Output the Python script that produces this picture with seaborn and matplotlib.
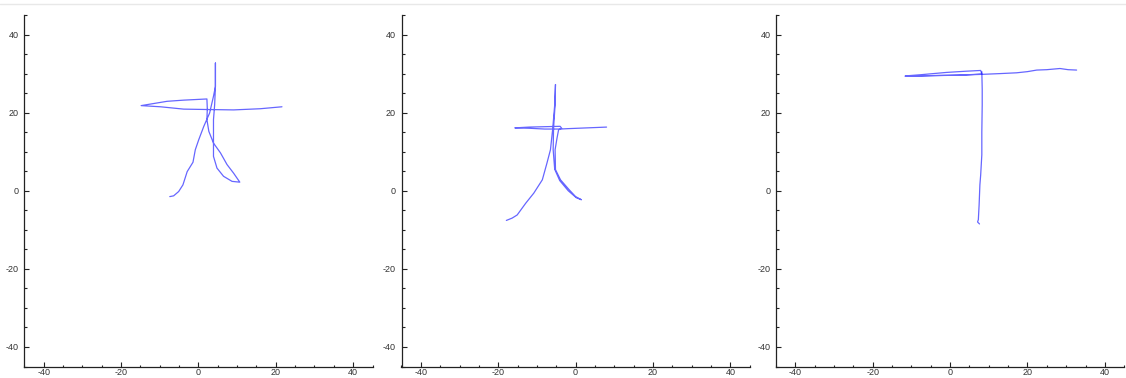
import numpy as np
import pandas as pd
import matplotlib
matplotlib.use("Agg")
import matplotlib.pyplot as plt
from matplotlib.ticker import MultipleLocator
from matplotlib.lines import Line2D
import seaborn as sns

# Pen trajectories of three handwritten characters (x, y in drawing units)
# Character 1: 大
c1_x = [21.6, 16.0, 9.1, 2.2, -3.8, -9.8, -14.8, -8.1, -3.8, 2.2, 2.3, 2.2, 2.7, 3.9, 5.7, 7.4, 9.1, 10.7,
        8.7, 6.5, 4.8, 3.9, 3.9, 3.9, 4.2, 4.4, 4.4,
        4.4, 3.9, 2.9, 1.4, 0.1, -0.8, -1.4, -2.9, -4.0, -5.1, -6.4, -7.4]
c1_y = [21.5, 21.0, 20.7, 20.8, 20.9, 21.5, 21.8, 22.9, 23.2, 23.5, 21.0, 18.2, 15.2, 12.2, 9.7, 6.7, 4.5, 2.2,
        2.4, 3.7, 5.8, 8.8, 13.1, 18.2, 22.0, 26.7, 32.7,
        26.7, 24.2, 19.9, 16.5, 13.1, 10.5, 7.3, 4.9, 1.5, -0.2, -1.3, -1.5]
c1_stroke = [0] * len(c1_x)

# Character 2: 大
c2_x = [8.0, 3.0, -2.0, -4.0, -8.0, -12.0, -15.7, -12.0, -8.0, -4.0, -3.6, -4.4,
        -4.8, -5.3, -5.2, -3.9, -1.7, 0.0, 1.5,
        0.2, -1.9, -4.1, -5.4, -5.8, -5.7, -5.3, -5.2,
        -5.4, -5.9, -6.5, -7.4, -8.6, -10.8, -12.9, -15.1, -16.4, -17.9]
c2_y = [16.3, 16.1, 15.9, 15.8, 15.8, 16.0, 16.1, 16.3, 16.4, 16.5, 16.0, 15.6,
        13.5, 10.5, 5.4, 2.8, 0.3, -1.5, -2.3,
        -1.8, 0.0, 2.6, 5.5, 10.5, 16.0, 22.0, 27.2,
        22.0, 16.0, 10.5, 7.1, 2.8, -0.6, -3.2, -6.2, -7.0, -7.6]
c2_stroke = [0] * len(c2_x)

# Character 3: 丁
c3_x = [-11.6, -7.7, -0.9, 4.0, 7.9, 8.2, 3.0, -3.0, -8.0, -11.6,
        -4.0, 2.0, 8.2, 13.0, 17.2, 20.0, 22.4, 25.0, 28.4, 30.5, 32.7,
        8.2, 8.3, 8.3, 8.2, 8.2, 7.9, 7.7, 7.5, 7.3, 7.1, 7.6]
c3_y = [29.4, 29.7, 30.3, 30.6, 30.8, 29.9, 29.6, 29.5, 29.4, 29.3,
        29.5, 29.6, 29.8, 30.0, 30.2, 30.5, 30.9, 31.0, 31.3, 31.0, 30.9,
        30.5, 26.0, 22.0, 15.0, 9.2, 4.0, 1.5, -3.6, -7.4, -8.0, -8.5]
c3_stroke = [0] * 21 + [1] * 11

axis_limits = (-45, 45)

sns.set_style("ticks")
plt.rcParams["font.family"] = ["Liberation Sans", "DejaVu Sans"]
plt.rcParams["axes.unicode_minus"] = False

fig = plt.figure(figsize=(11.26, 3.78), dpi=100)
lefts = [24.3 / 1126, 401.5 / 1126, 776 / 1126]
width = 348.2 / 1126
bottom = (378 - 366.5) / 378
height = (366.5 - 15) / 378

chars = [(c1_x, c1_y, c1_stroke), (c2_x, c2_y, c2_stroke), (c3_x, c3_y, c3_stroke)]

for left, (xs, ys, st) in zip(lefts, chars):
    ax = fig.add_axes([left, bottom, width, height])
    df = pd.DataFrame({"x": xs, "y": ys, "stroke": st})
    sns.lineplot(data=df, x="x", y="y", units="stroke", estimator=None, sort=False,
                 color="#0000ff", alpha=0.6, linewidth=0.9, ax=ax, legend=False)
    ax.set_xlim(*axis_limits)
    ax.set_ylim(*axis_limits)
    ax.set_xlabel("")
    ax.set_ylabel("")
    ax.xaxis.set_major_locator(MultipleLocator(20))
    ax.yaxis.set_major_locator(MultipleLocator(20))
    ax.xaxis.set_minor_locator(MultipleLocator(5))
    ax.yaxis.set_minor_locator(MultipleLocator(5))
    ax.tick_params(which="both", direction="in", color="#222222", width=0.8,
                   labelsize=6.5, labelcolor="#333333")
    ax.tick_params(which="major", length=3.5)
    ax.tick_params(which="minor", length=1.8)
    ax.tick_params(axis="x", which="major", pad=1.2)
    ax.tick_params(axis="y", which="major", pad=4)
    for side in ("top", "right"):
        ax.spines[side].set_visible(False)
    for side in ("left", "bottom"):
        ax.spines[side].set_color("#222222")
        ax.spines[side].set_linewidth(0.9)

# thin light border line along the top edge
fig.add_artist(Line2D([0.0, 1.0], [1 - 4 / 378, 1 - 4 / 378], transform=fig.transFigure,
                      color="#e8e8e8", linewidth=1.0))

fig.savefig("out.png", dpi=100)
